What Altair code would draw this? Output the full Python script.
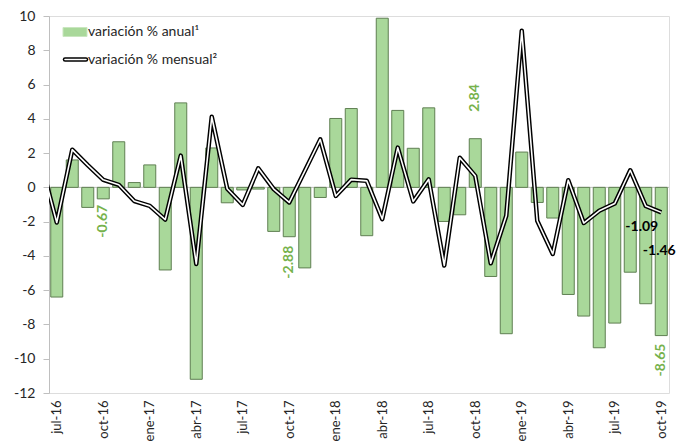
import altair as alt
import pandas as pd

months = ["jul-16", "ago-16", "sep-16", "oct-16", "nov-16", "dic-16",
          "ene-17", "feb-17", "mar-17", "abr-17", "may-17", "jun-17",
          "jul-17", "ago-17", "sep-17", "oct-17", "nov-17", "dic-17",
          "ene-18", "feb-18", "mar-18", "abr-18", "may-18", "jun-18",
          "jul-18", "ago-18", "sep-18", "oct-18", "nov-18", "dic-18",
          "ene-19", "feb-19", "mar-19", "abr-19", "may-19", "jun-19",
          "jul-19", "ago-19", "sep-19", "oct-19"]

anual = [-6.4, 1.6, -1.17, -0.67, 2.66, 0.28,
         1.31, -4.82, 4.93, -11.2, 2.3, -0.9,
         -0.15, -0.1, -2.57, -2.88, -4.7, -0.59,
         4.02, 4.6, -2.82, 9.87, 4.49, 2.28,
         4.64, -1.99, -1.6, 2.84, -5.2, -8.54,
         2.06, -0.88, -1.79, -6.25, -7.51, -9.36,
         -7.92, -4.95, -6.79, -8.65]

# jun-16 value, only partly visible at the left edge
mensual_prev = 1.4
mensual = [-2.05, 2.2, 1.3, 0.44, 0.15, -0.8,
           -1.08, -1.88, 1.85, -4.47, 4.12, -0.08,
           -1.02, 1.11, -0.1, -0.88, 0.95, 2.8,
           -0.5, 0.45, 0.38, -1.85, 2.32, -0.82,
           0.47, -4.56, 1.73, 0.67, -4.43, -1.66,
           9.14, -1.95, -3.89, 0.42, -2.08, -1.37,
           -0.94, 1.0, -1.09, -1.46]

tick_labels = ["jul-16", "oct-16", "ene-17", "abr-17", "jul-17", "oct-17",
               "ene-18", "abr-18", "jul-18", "oct-18", "ene-19", "abr-19",
               "jul-19", "oct-19"]
y_ticks = [-12, -10, -8, -6, -4, -2, 0, 2, 4, 6, 8, 10]
legend_labels = ["variación % anual¹", "variación % mensual²"]

FONT = "Lato"
BAR_FILL = "#a9d89a"
BAR_STROKE = "#5f7f52"
LABEL_GREEN = "#76b24c"
TXT = "#262626"

bars_df = pd.DataFrame({"idx": list(range(len(months))), "mes": months, "anual": anual})
bars_df["lbl"] = [f"{v:.2f}" for v in anual]
line_df = pd.DataFrame({"idx": [-1] + list(range(len(months))),
                        "mensual": [mensual_prev] + mensual})
line_df["lbl"] = [f"{v:.2f}" for v in line_df["mensual"]]

label_expr = "[" + ",".join(f"'{t}'" for t in tick_labels) + "][round(datum.value/3)]"

xscale = alt.Scale(domain=[-0.5, 39.5], nice=False, zero=False, padding=0)
yscale = alt.Scale(domain=[-12, 10], nice=False, padding=0)

x_axis = alt.Axis(values=list(range(0, 40, 3)), labelExpr=label_expr,
                  labelAngle=270, labelAlign="right", labelBaseline="middle",
                  domain=False, ticks=False, grid=False, labelPadding=7,
                  labelFont=FONT, labelFontSize=13, labelColor=TXT,
                  labelOverlap=False, title=None)
y_axis = alt.Axis(values=y_ticks, labelExpr="'' + datum.value",
                  grid=False, domainColor="#bfbfbf", tickColor="#bfbfbf",
                  tickSize=6, labelPadding=8, labelFont=FONT, labelFontSize=14,
                  labelColor=TXT, labelOverlap=False, labelFlush=False, title=None)


def X():
    return alt.X("idx:Q", scale=xscale, axis=x_axis, title=None)


def Y(field):
    return alt.Y(f"{field}:Q", scale=yscale, axis=y_axis, title=None)


base = alt.Chart(bars_df)

zero_line = alt.Chart(pd.DataFrame({"z": [0]})).mark_rule(
    color="#bfbfbf", strokeWidth=1).encode(y=Y("z"))

bars = base.mark_bar(size=12, fill=BAR_FILL, stroke=BAR_STROKE, strokeWidth=1).encode(
    x=X(), y=Y("anual"))

line_black = alt.Chart(line_df).mark_line(
    color="black", strokeWidth=4.5, clip=True, strokeJoin="round").encode(
    x=X(), y=Y("mensual"))
line_white = alt.Chart(line_df).mark_line(
    color="white", strokeWidth=1.6, clip=True, strokeJoin="round").encode(
    x=X(), y=Y("mensual"))


def bar_label(i, align, dx):
    return base.transform_filter(f"datum.idx == {i}").mark_text(
        angle=270, align=align, baseline="middle", dx=dx, font=FONT,
        fontSize=14, fontWeight="bold", color=LABEL_GREEN).encode(
        x=X(), y=Y("anual"), text="lbl:N")


def line_label(i, dx, dy):
    return alt.Chart(line_df).transform_filter(f"datum.idx == {i}").mark_text(
        align="center", baseline="middle", dx=dx, dy=dy, font=FONT,
        fontSize=14, fontWeight="bold", color="black").encode(
        x=X(), y=Y("mensual"), text="lbl:N")


labels = [bar_label(3, "right", -6), bar_label(15, "right", -9),
          bar_label(27, "left", 27), bar_label(39, "right", -8),
          line_label(38, -4, 21), line_label(39, -2, 39)]

leg_df = pd.DataFrame({"t": legend_labels})
leg_box = alt.Chart(leg_df.iloc[:1]).mark_rect(fill=BAR_FILL, stroke="#c9e6bf").encode(
    x=alt.value(14), x2=alt.value(38), y=alt.value(11.5), y2=alt.value(20.5))
leg_line_b = alt.Chart(leg_df.iloc[:1]).mark_rule(
    color="black", strokeWidth=4.5, strokeCap="round").encode(
    x=alt.value(16), x2=alt.value(37), y=alt.value(43.5))
leg_line_w = alt.Chart(leg_df.iloc[:1]).mark_rule(
    color="white", strokeWidth=1.6, strokeCap="round").encode(
    x=alt.value(16), x2=alt.value(37), y=alt.value(43.5))
leg_t1 = alt.Chart(leg_df.iloc[:1]).mark_text(
    align="left", baseline="middle", font=FONT, fontSize=14, color=TXT).encode(
    x=alt.value(39), y=alt.value(16), text="t:N")
leg_t2 = alt.Chart(leg_df.iloc[1:]).mark_text(
    align="left", baseline="middle", font=FONT, fontSize=14, color=TXT).encode(
    x=alt.value(39), y=alt.value(43.5), text="t:N")

chart = alt.layer(zero_line, bars, line_black, line_white, *labels,
                  leg_box, leg_line_b, leg_line_w, leg_t1, leg_t2).properties(
    width=620, height=377,
    autosize=alt.AutoSizeParams(type="none"),
    padding={"left": 41, "top": 8, "right": 10, "bottom": 50},
).configure_view(stroke=None).configure(background="white")

chart.save("out.html", embed_options={"renderer": "svg", "actions": False})
